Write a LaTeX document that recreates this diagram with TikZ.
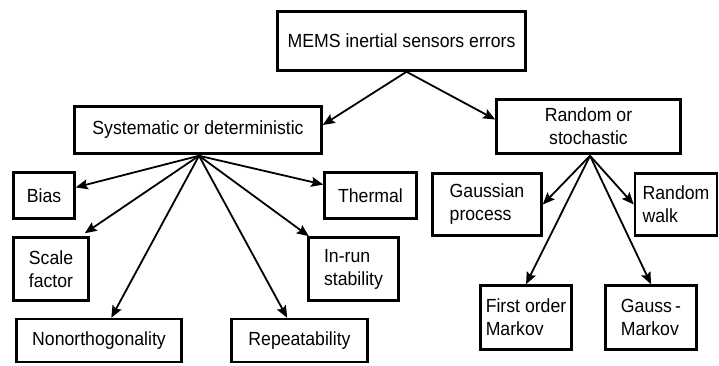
\documentclass[tikz,border=0pt]{standalone}
\usepackage{fontspec}
\setmainfont{Liberation Sans}[FakeStretch=0.93]
\usetikzlibrary{arrows.meta}
\begin{document}
\begin{tikzpicture}[x=1pt,y=-1pt,
  box/.style={draw,line width=2.5pt,rectangle,inner sep=0pt,align=left,
    font=\fontsize{19}{23}\selectfont},
  cbox/.style={box,align=center},
  arr/.style={line width=1.8pt,-{Stealth[length=12pt,width=10pt,inset=2pt]}}]
\useasboundingbox (0,0) rectangle (719,365);
% top
\node[box,minimum width=248pt,minimum height=59pt] (mems) at (401.5,41) {MEMS inertial sensors errors};
\node[box,minimum width=247pt,minimum height=47pt] (sys) at (198,130) {Systematic or deterministic};
\node[cbox,minimum width=184pt,minimum height=54pt] (rnd) at (588.5,126.5) {Random or\\stochastic};
% systematic children
\node[box,minimum width=61pt,minimum height=46pt] (bias) at (44,195.5) {Bias};
\node[box,minimum width=75pt,minimum height=63pt] (scale) at (51,269) {Scale\\factor};
\node[box,minimum width=165pt,minimum height=43pt] (nonorth) at (99,340.5) {Nonorthogonality};
\node[box,minimum width=136pt,minimum height=43pt] (rep) at (299.5,340.5) {Repeatability};
\node[box,minimum width=92pt,minimum height=46pt] (therm) at (370.5,195.5) {Thermal};
\node[box,minimum width=90pt,minimum height=63pt] (inrun) at (353.5,269) {In-run\\stability};
% random children
\node[box,minimum width=109pt,minimum height=62pt] (gauss) at (487,204.5) {Gaussian\\process};
\node[box,minimum width=82pt,minimum height=62pt] (rwalk) at (676,204.5) {Random\\walk};
\node[box,minimum width=91pt,minimum height=64pt] (fom) at (526,317.5) {First order\\Markov};
\node[box,minimum width=91pt,minimum height=64pt] (gm) at (651,317.5) {Gauss\,-\\Markov};
% fan points
\coordinate (ms) at ([xshift=5pt]mems.south);
\coordinate (ss) at ([xshift=1pt,yshift=-1pt]sys.south);
\coordinate (rs) at ([xshift=1.5pt,yshift=-1pt]rnd.south);
% connectors
\draw[arr] (ms) -- ([yshift=5pt]sys.east);
\draw[arr] (ms) -- ([yshift=7pt]rnd.west);
\draw[arr] (ss) -- (bias);
\draw[arr] (ss) -- ([xshift=-5pt,yshift=3pt]scale.north east);
\draw[arr] (ss) -- (nonorth);
\draw[arr] (ss) -- (rep);
\draw[arr] (ss) -- (therm);
\draw[arr] (ss) -- (inrun);
\draw[arr] (rs) -- (gauss.east);
\draw[arr] (rs) -- (rwalk.west);
\draw[arr] (rs) -- (fom.north);
\draw[arr] (rs) -- (gm.north);
\end{tikzpicture}
\end{document}
